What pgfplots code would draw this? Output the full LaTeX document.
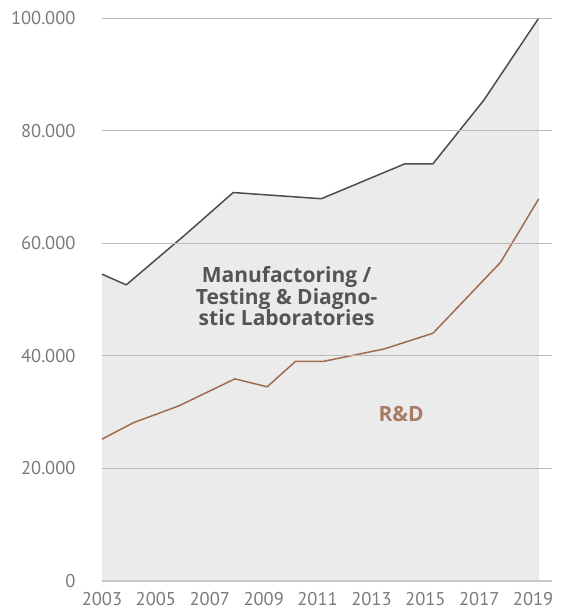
\documentclass[border=0pt]{standalone}
\usepackage{pgfplots}
\pgfplotsset{compat=1.18}
\usepackage{fontspec}
\setmainfont{PT Sans}
\newfontfamily\labfont{Open Sans}
\definecolor{fillgrey}{RGB}{236,235,236}
\definecolor{linegrey}{RGB}{77,77,77}
\definecolor{rdbrown}{RGB}{160,108,80}
\definecolor{rdtext}{RGB}{166,124,101}
\definecolor{labgrey}{RGB}{85,85,85}
\definecolor{tickgrey}{RGB}{122,122,122}
\definecolor{gridgrey}{RGB}{185,185,185}
\begin{document}
\begin{tikzpicture}
\begin{axis}[
  name=ax,
  scale only axis,
  width=450pt, height=563pt,
  xmin=2003, xmax=2019.70,
  ymin=0, ymax=100,
  axis on top,
  axis x line=bottom,
  axis y line=left,
  x axis line style={draw={rgb,255:red,200;green,200;blue,200}, line width=1.3pt, -},
  y axis line style={draw=none},
  xtick={2003,2005,...,2019},
  xticklabels={2003,2005,2007,2009,2011,2013,2015,2017,2019},
  ytick={0,20,40,60,80,100},
  yticklabels={0,20.000,40.000,60.000,80.000,100.000},
  ymajorgrids,
  grid style={draw=gridgrey, line width=0.9pt},
  major tick length=0pt,
  tick style={draw=none},
  ticklabel style={font=\fontsize{18.5}{20}\selectfont, text=tickgrey},
  xticklabel style={yshift=-8pt},
  yticklabel style={xshift=-23pt},
  /pgf/number format/assume math mode=true,
  clip=false,
]
\addplot[fill=fillgrey, draw=none] coordinates {
  (2003,54.5) (2003.90,52.6) (2006.16,61.8) (2007.87,69.0) (2011.14,67.9)
  (2014.24,74.1) (2015.28,74.1) (2017.17,85.4) (2019.21,100)
} \closedcycle;
\addplot[draw=linegrey, line width=1.5pt] coordinates {
  (2003,54.5) (2003.90,52.6) (2006.16,61.8) (2007.87,69.0) (2011.14,67.9)
  (2014.24,74.1) (2015.28,74.1) (2017.17,85.4) (2019.21,100)
};
\addplot[draw=rdbrown, line width=1.5pt] coordinates {
  (2003,25.2) (2004.16,28.1) (2005.85,31.1) (2007.93,35.9) (2009.13,34.5)
  (2010.18,39.0) (2011.21,39.0) (2013.46,41.2) (2015.28,44.0) (2017.79,56.6)
  (2019.21,67.9)
};
\node[align=center, font=\labfont\bfseries\fontsize{21}{21.5}\selectfont, text=labgrey]
  at (axis cs:2009.85,50.6) {Manufactoring /\\Testing \& Diagno-\\stic Laboratories};
\node[font=\labfont\bfseries\fontsize{21}{21.5}\selectfont, text=rdtext]
  at (axis cs:2014.10,29.6) {R\&D};
\end{axis}
\path (ax.south west) ++(-102pt,-31pt) rectangle ++(564pt,612pt);
\end{tikzpicture}
\end{document}
